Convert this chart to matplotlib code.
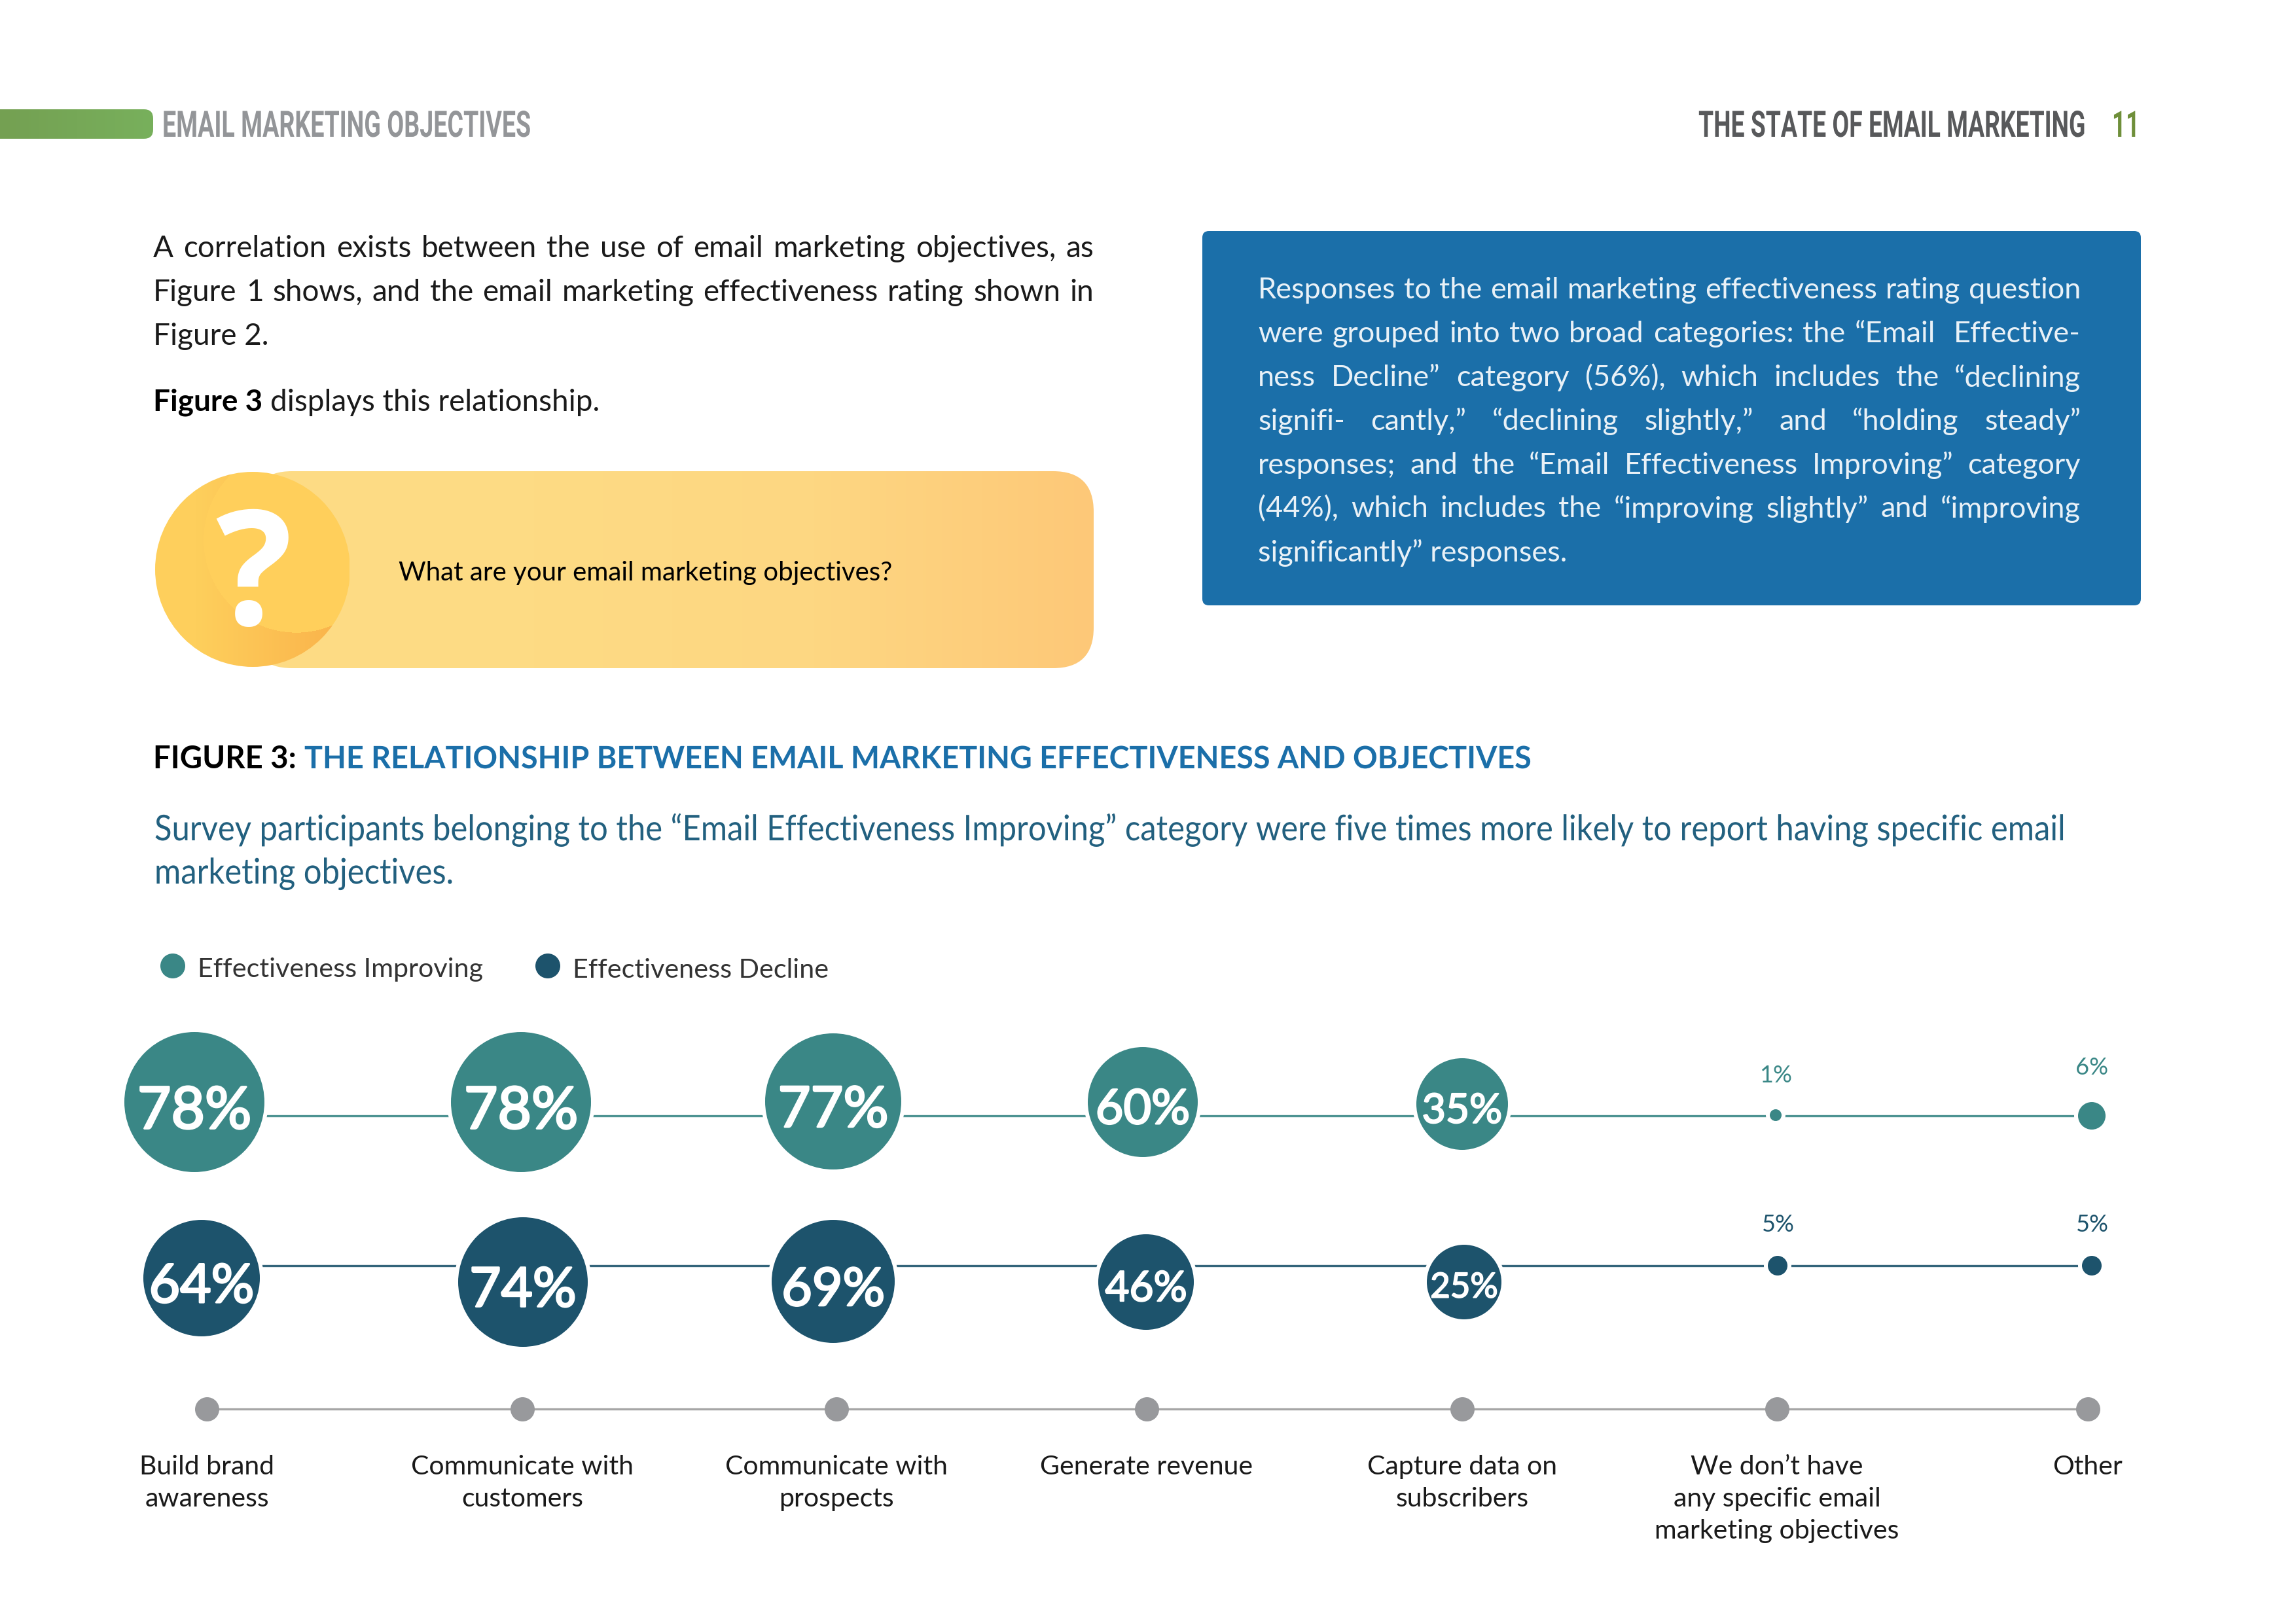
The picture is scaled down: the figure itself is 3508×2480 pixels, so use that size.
# use: email marketing objectives report page, figure 3 bubble rows
import matplotlib
matplotlib.use('Agg')
import matplotlib.pyplot as plt
import numpy as np
from matplotlib.colors import LinearSegmentedColormap, to_rgb
from matplotlib.patches import Circle, FancyBboxPatch
from matplotlib.patheffects import AbstractPathEffect, withStroke
from matplotlib.transforms import Affine2D

# data
categories = ['Build brand\nawareness', 'Communicate with\ncustomers', 'Communicate with\nprospects',
              'Generate revenue', 'Capture data on\nsubscribers',
              'We don’t have\nany specific email\nmarketing objectives', 'Other']
improving = [78, 78, 77, 60, 35, 1, 6]
decline = [64, 74, 69, 46, 25, 5, 5]
legend_names = ['Effectiveness Improving', 'Effectiveness Decline']

para_left = ['A correlation exists between the use of email marketing objectives, as',
             'Figure 1 shows, and the email marketing effectiveness rating shown in',
             'Figure 2.']
para_right = ['Responses to the email marketing effectiveness rating question',
              'were grouped into two broad categories: the “Email  Effective-',
              'ness Decline” category (56%), which includes the “declining',
              'signifi- cantly,” “declining slightly,” and “holding steady”',
              'responses; and the “Email Effectiveness Improving” category',
              '(44%), which includes the “improving slightly” and “improving',
              'significantly” responses.']
subtitle = ['Survey participants belonging to the “Email Effectiveness Improving” category were five times more likely to report having specific email',
            'marketing objectives.']

# layout, all in page pixels
improving_radius = [107, 107, 104, 84, 70, 9, 21]
decline_radius = [89, 99, 94, 73, 57, 15, 15]
axis_nudge = [0, 3, 4, -1, 2, 4, 0]
improving_nudge = [(-19, -21), (1, -21), (-1, -22), (-7, -21), (2, -18), (2, -1), (6, 0)]
decline_nudge = [(-8, 19), (4, 25), (-1, 24), (-2, 25), (5, 25), (5, 0), (6, 0)]
improving_font = [64, 64, 62, 53, 45, 26, 26]
decline_font = [59, 60, 58, 46, 38, 26, 26]
improving_lift = [0, 0, 0, 0, 0, 62, 73]
decline_lift = [0, 0, 0, 0, 0, 62, 62]
row_improving, row_decline, row_axis = 1705, 1934, 2153

TEAL = '#3a8786'
NAVY = '#1d536c'
GREY = '#98999c'
BLUE = '#1b6fa9'
BODY = 'Lato'
COND = 'Roboto'

fig = plt.figure(figsize=(35.08, 24.80), dpi=100, facecolor='white')
page = fig.add_axes([0, 0, 1, 1])
page.set_xlim(0, 3508)
page.set_ylim(2480, 0)
page.axis('off')

# x is the category index, y stays in page pixels
ax = fig.add_axes([316 / 3508, 0, (3190 - 316) / 3508, 1])
ax.set_xlim(0, 6)
ax.set_ylim(2480, 0)
ax.axis('off')
ax.patch.set_alpha(0)
unit = (3190 - 316) / 6


class Squeeze(AbstractPathEffect):
    # narrows a text around its anchor, the page has no condensed font
    def __init__(self, sx, x0):
        super().__init__()
        self.sx, self.x0 = sx, x0

    def draw_path(self, renderer, gc, tpath, affine, rgbFace=None):
        squeeze = Affine2D().translate(-self.x0, 0).scale(self.sx, 1).translate(self.x0, 0)
        renderer.draw_path(gc, tpath, affine + squeeze, rgbFace)


def gradient(extent, colors, clip):
    cmap = LinearSegmentedColormap.from_list('g', colors)
    z = np.linspace(0, 1, 256).reshape(1, -1)
    im = page.imshow(z, cmap=cmap, extent=extent, aspect='auto', zorder=1)
    im.set_clip_path(clip)
    page.set_xlim(0, 3508)
    page.set_ylim(2480, 0)
    return im


def width_of(s, **kw):
    t = page.text(0, 0, s, **kw)
    w = t.get_window_extent(fig.canvas.get_renderer()).width
    t.remove()
    return w


def justified(line, x0, x1, y, **kw):
    words = line.split(' ')
    widths = [width_of(w, **kw) if w else 0 for w in words]
    gap = (x1 - x0 - sum(widths)) / (len(words) - 1)
    x = x0
    for w, wd in zip(words, widths):
        if w:
            page.text(x, y, w, va='center', ha='left', **kw)
        x += wd + gap


# header
clip = FancyBboxPatch((-60, 167), 294, 45, boxstyle='round,pad=0,rounding_size=14',
                      transform=page.transData, fc='none', ec='none')
page.add_patch(clip)
gradient((0, 234, 212, 167), ['#74a052', '#78b05c'], clip)
page.text(248, 194, 'EMAIL MARKETING OBJECTIVES', family=COND, weight='bold', fontsize=40, color='#939598',
          va='center', path_effects=[Squeeze(0.677, 248)])
page.text(3186, 194, 'THE STATE OF EMAIL MARKETING', family=COND, weight='bold', fontsize=40, color='#58595b',
          va='center', ha='right', path_effects=[Squeeze(0.672, 3186)])
page.text(3269, 194, '11', family=COND, weight='bold', fontsize=40, color='#6f8f3a',
          va='center', ha='right', path_effects=[Squeeze(0.66, 3269)])

# left text
body_kw = dict(family=BODY, fontsize=33, color='#1a1a1a')
for i, line in enumerate(para_left):
    y = 380 + 67 * i
    if i < 2:
        justified(line, 234, 1671, y, **body_kw)
    else:
        page.text(234, y, line, va='center', **body_kw)
bold_w = width_of('Figure 3', family=BODY, fontsize=33, weight='bold')
page.text(234, 615, 'Figure 3', family=BODY, fontsize=33, weight='bold', color='black', va='center')
page.text(234 + bold_w + 12, 615, 'displays this relationship.', va='center', **body_kw)

# question pill
pill = FancyBboxPatch((384, 720), 1287, 301, boxstyle='round,pad=0,rounding_size=62',
                      transform=page.transData, fc='none', ec='none')
page.add_patch(pill)
gradient((384, 1671, 1021, 720), ['#fddc85', '#fddb84', '#fdd782', '#fdc878'], pill)
disc = Circle((386, 870), 149, transform=page.transData, fc='none', ec='none')
page.add_patch(disc)
gx, gy = np.meshgrid(np.linspace(234, 534, 300), np.linspace(720, 1020, 300))
shade = np.clip((gx - 300) / 230, 0, 1)[..., None]
outer_rgb = np.array(to_rgb('#fecf5c')) * (1 - shade) + np.array(to_rgb('#fab24a')) * shade
inside = ((gx - 453) ** 2 + (gy - 825) ** 2 < 142 ** 2)[..., None]
disc_img = np.where(inside, np.array(to_rgb('#ffcf5b')), outer_rgb)
im = page.imshow(disc_img, extent=(234, 534, 1020, 720), aspect='auto', zorder=2)
im.set_clip_path(disc)
page.set_xlim(0, 3508)
page.set_ylim(2480, 0)
page.text(388, 892, '?', family='Open Sans', weight='bold', fontsize=176, color='white', ha='center', va='center', zorder=3)
page.text(609, 876, 'What are your email marketing objectives?', family=BODY, fontsize=29, color='black', va='center')

# blue box
page.add_patch(FancyBboxPatch((1837, 353), 1434, 572, boxstyle='round,pad=0,rounding_size=10', fc=BLUE, ec='none', zorder=1))
for i, line in enumerate(para_right):
    y = 444 + 66.8 * i
    kw = dict(family=BODY, fontsize=32.5, color='#e9f1f7', zorder=2)
    if i < 6:
        justified(line, 1922, 3179, y, **kw)
    else:
        page.text(1922, y, line, va='center', **kw)

# figure title
page.text(234, 1160, 'FIGURE 3:', family=BODY, weight='bold', fontsize=34, color='black', va='center')
page.text(465, 1160, 'THE RELATIONSHIP BETWEEN EMAIL MARKETING EFFECTIVENESS AND OBJECTIVES', family=BODY, weight='bold',
          fontsize=34, color=BLUE, va='center', path_effects=[Squeeze(0.988, 465)])
for i, line in enumerate(subtitle):
    page.text(236, 1268 + 67 * i, line, family=BODY, fontsize=39, color='#22607f', va='center',
              path_effects=[Squeeze(0.904, 236)])

# legend
for x, c, name in zip([264, 837], [TEAL, NAVY], legend_names):
    page.add_patch(Circle((x, 1476), 19, fc=c, ec='none'))
    page.text(x + 38, 1482, name, family=BODY, fontsize=29.7, color='#333333', va='center')

xs = np.arange(len(categories))
axis_x = xs + np.array(axis_nudge) / unit

# rows of bubbles
for values, row, radius, nudge, sizes, lift, color in [
        (improving, row_improving, improving_radius, improving_nudge, improving_font, improving_lift, TEAL),
        (decline, row_decline, decline_radius, decline_nudge, decline_font, decline_lift, NAVY)]:
    cx = [x + n[0] / unit for x, n in zip(xs, nudge)]
    cy = [row + n[1] for n in nudge]
    ax.plot(cx, [row] * len(xs), color=color, lw=2.4, zorder=2, alpha=0.9)
    r = np.array(radius)
    ax.scatter(cx, cy, s=(2 * (r + 6) * 0.72) ** 2, color='white', linewidths=0, zorder=3, clip_on=False)
    ax.scatter(cx, cy, s=(2 * r * 0.72) ** 2, color=color, linewidths=0, zorder=4, clip_on=False)
    for x, y, v, rr, fs, up in zip(cx, cy, values, radius, sizes, lift):
        if rr > 30:
            ax.text(x, y + 0.24 * fs, f'{v}%', family=BODY, fontsize=fs, color='white', ha='center', va='center', zorder=5,
                    path_effects=[withStroke(linewidth=fs * 0.035, foreground='white')])
        else:
            ax.text(x, row - up, f'{v}%', family=BODY, fontsize=fs, color=color, ha='center', va='center', zorder=5)

# category axis
ax.plot(axis_x, [row_axis] * len(xs), color='#a6a6a6', lw=2.4, zorder=2)
ax.scatter(axis_x, [row_axis] * len(xs), s=(2 * 18.5 * 0.72) ** 2, color=GREY, linewidths=0, zorder=3, clip_on=False)
for x, label in zip(axis_x, categories):
    ax.text(x, 2223, label, family=BODY, fontsize=29.5, color='#1a1a1a', ha='center', va='top', linespacing=1.4, clip_on=False)

fig.savefig('out.png', dpi=100)
